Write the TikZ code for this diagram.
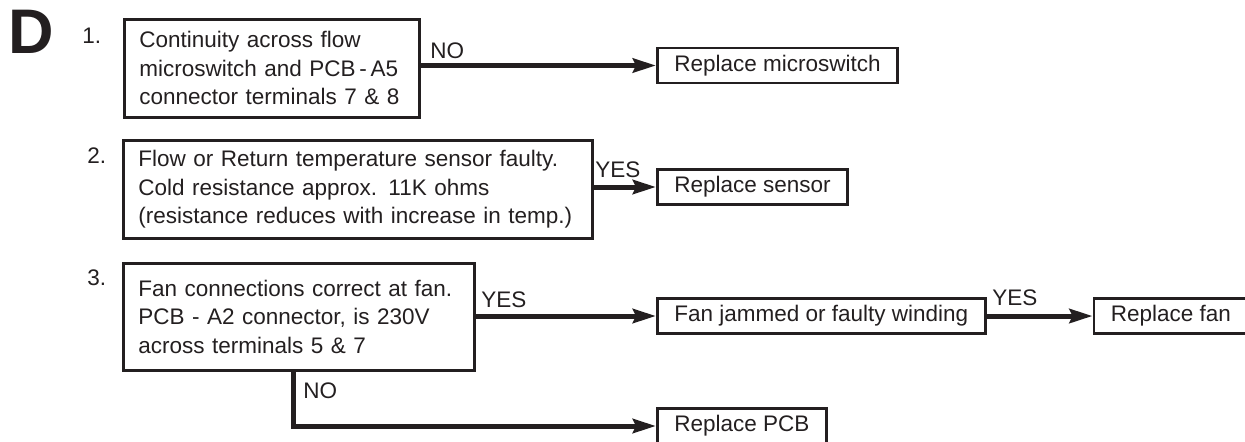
\documentclass[tikz,border=0pt]{standalone}
\usepackage{fontspec}
\setmainfont{Liberation Sans}
\usetikzlibrary{arrows.meta, positioning}
\definecolor{ink}{HTML}{231F20}

\begin{document}
\begin{tikzpicture}[
  x=0.5pt, y=-0.5pt,
  every node/.style={text=ink},
  qbox/.style={draw=ink, line width=1.35pt, anchor=north west, inner xsep=7.5pt,
               align=left, font=\fontsize{11.25}{14.25}\selectfont},
  fix/.style={draw=ink, line width=1.35pt, anchor=west, inner xsep=8.5pt, inner ysep=0pt,
              minimum height=17.5pt, font=\fontsize{11.25}{14.25}\selectfont},
  lbl/.style={anchor=base west, inner sep=0pt, font=\fontsize{11.25}{14.25}\selectfont},
  arr/.style={-{Stealth[length=11.5pt, width=7pt, inset=1.5pt]}, line width=2.5pt, draw=ink},
]
  \useasboundingbox (0,0) rectangle (1245,441);

  % section letter and step numbers
  \node[lbl, font=\fontsize{31.5}{31.5}\selectfont\bfseries] (sect) at (8.5,53) {D};
  \node[lbl] (n1) at (82,43) {1.};
  \node[lbl] (n2) at (87,163) {2.};
  \node[lbl] (n3) at (87,285) {3.};

  % checks
  \node[qbox, text width=132.5pt, minimum height=49pt] (q1) at (123,18)
    {Continuity across flow\\microswitch and PCB\,-\,A5\\connector terminals 7 \& 8};
  \node[qbox, text width=219.5pt, minimum height=49pt] (q2) at (122,139)
    {Flow or Return temperature sensor faulty.\\Cold resistance approx. 11K ohms\\(resistance reduces with increase in temp.)};
  \node[qbox, text width=160.5pt, minimum height=53.5pt] (q3) at (122,262)
    {Fan connections correct at fan.\\PCB - A2 connector, is 230V\\across terminals 5 \& 7};

  % actions
  \node[fix] (newsw) at (656,65.5) {Replace microswitch};
  \node[fix] (newsens) at (656,187) {Replace sensor};
  \node[fix] (fanchk) at (656,316) {Fan jammed or faulty winding};
  \node[fix, right=53pt of fanchk] (newfan) {Replace fan};
  \node[fix] (newpcb) at (656,426) {Replace PCB};

  % connectors
  \coordinate (nodrop) at (293,0);
  \draw[arr] (newsw.west -| q1.east) -- (newsw.west);
  \draw[arr] (newsens.west -| q2.east) -- (newsens.west);
  \draw[arr] (fanchk.west -| q3.east) -- (fanchk.west);
  \draw[arr] (fanchk) -- (newfan);
  \draw[arr] (q3.south -| nodrop) |- (newpcb.west);

  \node[lbl] (no1) at (430,58) {NO};
  \node[lbl] (yes2) at (595,177) {YES};
  \node[lbl] (yes3) at (481,307) {YES};
  \node[lbl] (yes4) at (992,305) {YES};
  \node[lbl] (no3) at (303,398) {NO};
\end{tikzpicture}
\end{document}
